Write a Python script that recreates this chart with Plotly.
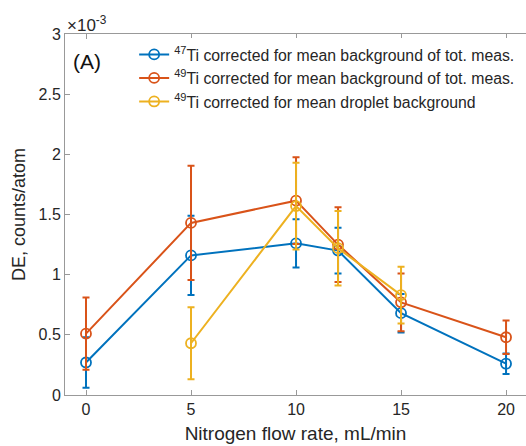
import plotly.graph_objects as go

# Data (DE in units of 1e-3 counts/atom)
flow = [0, 5, 10, 12, 15, 20]
ti47_bg = [0.27, 1.16, 1.26, 1.20, 0.68, 0.26]
ti47_err = [0.21, 0.33, 0.20, 0.19, 0.16, 0.085]
ti49_bg = [0.51, 1.43, 1.615, 1.25, 0.77, 0.48]
ti49_err = [0.30, 0.475, 0.36, 0.31, 0.24, 0.14]
flow_drop = [5, 10, 12, 15]
ti49_drop = [0.43, 1.57, 1.22, 0.83]
ti49_drop_err = [0.30, 0.36, 0.31, 0.235]

names = ["<sup>47</sup>Ti corrected for mean background of tot. meas.",
         "<sup>49</sup>Ti corrected for mean background of tot. meas.",
         "<sup>49</sup>Ti corrected for mean droplet background"]
colors = ["#0072BD", "#D95319", "#EDB120"]

FONT = "Liberation Sans, Arial, Helvetica, sans-serif"
TXT = "#262626"

fig = go.Figure()
series = [(flow, ti47_bg, ti47_err), (flow, ti49_bg, ti49_err), (flow_drop, ti49_drop, ti49_drop_err)]
for (x, y, e), n, c in zip(series, names, colors):
    fig.add_trace(go.Scatter(
        x=x, y=y, name=n, mode="lines+markers",
        line=dict(color=c, width=2),
        marker=dict(symbol="circle-open", size=10, color=c, line=dict(width=1.8, color=c)),
        error_y=dict(type="data", array=e, visible=True, color=c, thickness=2, width=3.5),
    ))

fig.update_layout(
    width=526, height=446,
    margin=dict(l=65, r=0, t=34, b=51),
    paper_bgcolor="white", plot_bgcolor="white",
    font=dict(family=FONT, color=TXT, size=16),
    showlegend=True,
    legend=dict(x=0.15, y=0.99, xanchor="left", yanchor="top",
                bgcolor="rgba(255,255,255,1)", borderwidth=0,
                font=dict(size=15.8, color=TXT), tracegroupgap=0,
                itemwidth=30),
    xaxis=dict(range=[-1, 20.95], tickvals=[0, 5, 10, 15, 20], ticks="inside", ticklen=5,
               tickcolor="#999999", showline=True, linecolor="#999999", linewidth=1,
               mirror="ticks", showgrid=False, zeroline=False,
               tickfont=dict(size=16, color=TXT),
               title=dict(text="Nitrogen flow rate, mL/min", font=dict(size=19, color=TXT), standoff=9)),
    yaxis=dict(range=[0, 3], tickvals=[0, 0.5, 1, 1.5, 2, 2.5, 3],
               ticktext=["0", "0.5", "1", "1.5", "2", "2.5", "3"],
               ticks="inside", ticklen=5, tickcolor="#999999",
               showline=True, linecolor="#999999", linewidth=1, mirror=False,
               showgrid=False, zeroline=False,
               tickfont=dict(size=16, color=TXT),
               title=dict(text="DE, counts/atom", font=dict(size=18, color=TXT), standoff=8)),
)

fig.add_annotation(text="×10<sup>-3</sup>", xref="paper", yref="paper", x=0.0, y=1.0,
                   xanchor="left", yanchor="bottom", showarrow=False,
                   font=dict(size=17, color=TXT), yshift=-3)
fig.add_annotation(text="(A)", xref="paper", yref="paper", x=0.012, y=0.925,
                   xanchor="left", yanchor="middle", showarrow=False,
                   font=dict(size=21, color="#111111"))

fig.write_html("out.html")
